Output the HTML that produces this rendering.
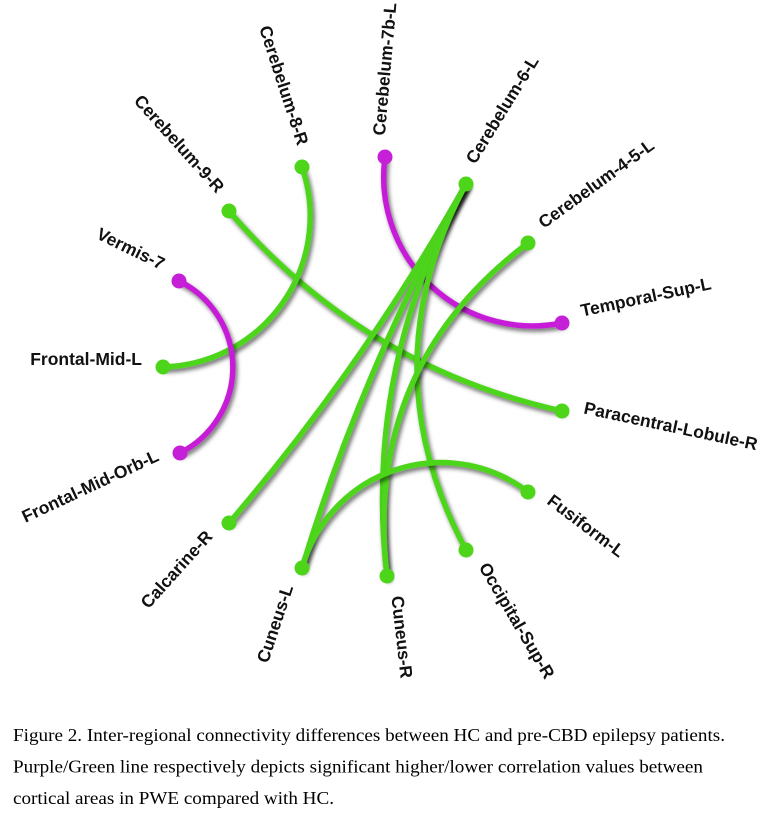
<!DOCTYPE html>
<html>
<head>
<meta charset="utf-8">
<style>
  html, body { margin: 0; padding: 0; background: #ffffff; }
  svg { display: block; }
  .lbl { font-family: "Liberation Sans", Arial, sans-serif; font-weight: bold; font-size: 17.5px; fill: #111; }
  .cap { font-family: "Liberation Serif", "Times New Roman", serif; font-size: 18px; fill: #000; }
</style>
</head>
<body>
<svg width="775" height="815" viewBox="0 0 775 815" xmlns="http://www.w3.org/2000/svg">
  <defs>
    <filter id="sh" filterUnits="userSpaceOnUse" x="0" y="0" width="775" height="815">
      <feDropShadow dx="2" dy="3" stdDeviation="2" flood-color="#000" flood-opacity="0.55"/>
    </filter>
  </defs>
  <rect width="775" height="815" fill="#ffffff"/>

  <g fill="none" stroke-width="5.5" stroke-linecap="round">
    <!-- purple: Cerebelum-7b-L to Temporal-Sup-L -->
    <path d="M385,157 A149,149 0 0 0 562,323" stroke="#c61fd8" filter="url(#sh)"/>
    <!-- green edges -->
    <path d="M229,211 Q363,367 562,411" stroke="#4dd51a" filter="url(#sh)"/>
    <path d="M466,184 Q363,367 229,523" stroke="#4dd51a" filter="url(#sh)"/>
    <path d="M466,184 Q363,367 302,568" stroke="#4dd51a" filter="url(#sh)"/>
    <path d="M466,184 Q363,367 387,576" stroke="#4dd51a" filter="url(#sh)"/>
    <path d="M466,184 Q368,367 466,550" stroke="#4dd51a" filter="url(#sh)"/>
    <path d="M528,243 Q363,367 387,576" stroke="#4dd51a" filter="url(#sh)"/>
    <path d="M528,492 A144,144 0 0 0 302,568" stroke="#4dd51a" filter="url(#sh)"/>
    <path d="M302,167 A151,151 0 0 1 163,367" stroke="#4dd51a" filter="url(#sh)"/>
    <!-- purple: Vermis-7 to Frontal-Mid-Orb-L -->
    <path d="M179,281 A96,96 0 0 1 180,453" stroke="#c61fd8" filter="url(#sh)"/>
  </g>

  <!-- nodes -->
  <g>
    <circle cx="302" cy="167" r="7.5" fill="#4dd51a"/>
    <circle cx="229" cy="211" r="7.5" fill="#4dd51a"/>
    <circle cx="179" cy="281" r="7.5" fill="#c61fd8"/>
    <circle cx="163" cy="367" r="7.5" fill="#4dd51a"/>
    <circle cx="180" cy="453" r="7.5" fill="#c61fd8"/>
    <circle cx="229" cy="523" r="7.5" fill="#4dd51a"/>
    <circle cx="302" cy="568" r="7.5" fill="#4dd51a"/>
    <circle cx="387" cy="576" r="7.5" fill="#4dd51a"/>
    <circle cx="466" cy="550" r="7.5" fill="#4dd51a"/>
    <circle cx="528" cy="492" r="7.5" fill="#4dd51a"/>
    <circle cx="562" cy="411" r="7.5" fill="#4dd51a"/>
    <circle cx="562" cy="323" r="7.5" fill="#c61fd8"/>
    <circle cx="528" cy="243" r="7.5" fill="#4dd51a"/>
    <circle cx="466" cy="184" r="7.5" fill="#4dd51a"/>
    <circle cx="385" cy="157" r="7.5" fill="#c61fd8"/>
  </g>

  <!-- labels: right side -->
  <text class="lbl" transform="translate(385,157) rotate(-85)" x="21" y="-2">Cerebelum-7b-L</text>
  <text class="lbl" transform="translate(466,184) rotate(-58.5)" x="21" y="-2">Cerebelum-6-L</text>
  <text class="lbl" transform="translate(528,243) rotate(-36)" x="21" y="-2">Cerebelum-4-5-L</text>
  <text class="lbl" transform="translate(562,323) rotate(-12)" x="21" y="-2">Temporal-Sup-L</text>
  <text class="lbl" transform="translate(562,411) rotate(12)" x="21" y="-2">Paracentral-Lobule-R</text>
  <text class="lbl" transform="translate(528,492) rotate(37)" x="21" y="-2">Fusiform-L</text>
  <text class="lbl" transform="translate(466,550) rotate(59.5)" x="21" y="-2">Occipital-Sup-R</text>
  <text class="lbl" transform="translate(387,576) rotate(83.5)" x="21" y="-2">Cuneus-R</text>

  <!-- labels: left side -->
  <text class="lbl" text-anchor="end" transform="translate(302,167) rotate(72)" x="-21" y="-2">Cerebelum-8-R</text>
  <text class="lbl" text-anchor="end" transform="translate(229,211) rotate(48)" x="-21" y="-2">Cerebelum-9-R</text>
  <text class="lbl" text-anchor="end" transform="translate(179,281) rotate(26)" x="-21" y="-2">Vermis-7</text>
  <text class="lbl" text-anchor="end" transform="translate(163,367) rotate(0)" x="-21" y="-2">Frontal-Mid-L</text>
  <text class="lbl" text-anchor="end" transform="translate(180,453) rotate(-25)" x="-21" y="-2">Frontal-Mid-Orb-L</text>
  <text class="lbl" text-anchor="end" transform="translate(229,523) rotate(-48)" x="-21" y="-2">Calcarine-R</text>
  <text class="lbl" text-anchor="end" transform="translate(302,568) rotate(-71.5)" x="-21" y="-2">Cuneus-L</text>

  <!-- caption -->
  <text class="cap" x="13" y="741" textLength="712" lengthAdjust="spacingAndGlyphs">Figure 2. Inter-regional connectivity differences between HC and pre-CBD epilepsy patients.</text>
  <text class="cap" x="13" y="772.5" textLength="690" lengthAdjust="spacingAndGlyphs">Purple/Green line respectively depicts significant higher/lower correlation values between</text>
  <text class="cap" x="13" y="804" textLength="321" lengthAdjust="spacingAndGlyphs">cortical areas in PWE compared with HC.</text>
</svg>
</body>
</html>
